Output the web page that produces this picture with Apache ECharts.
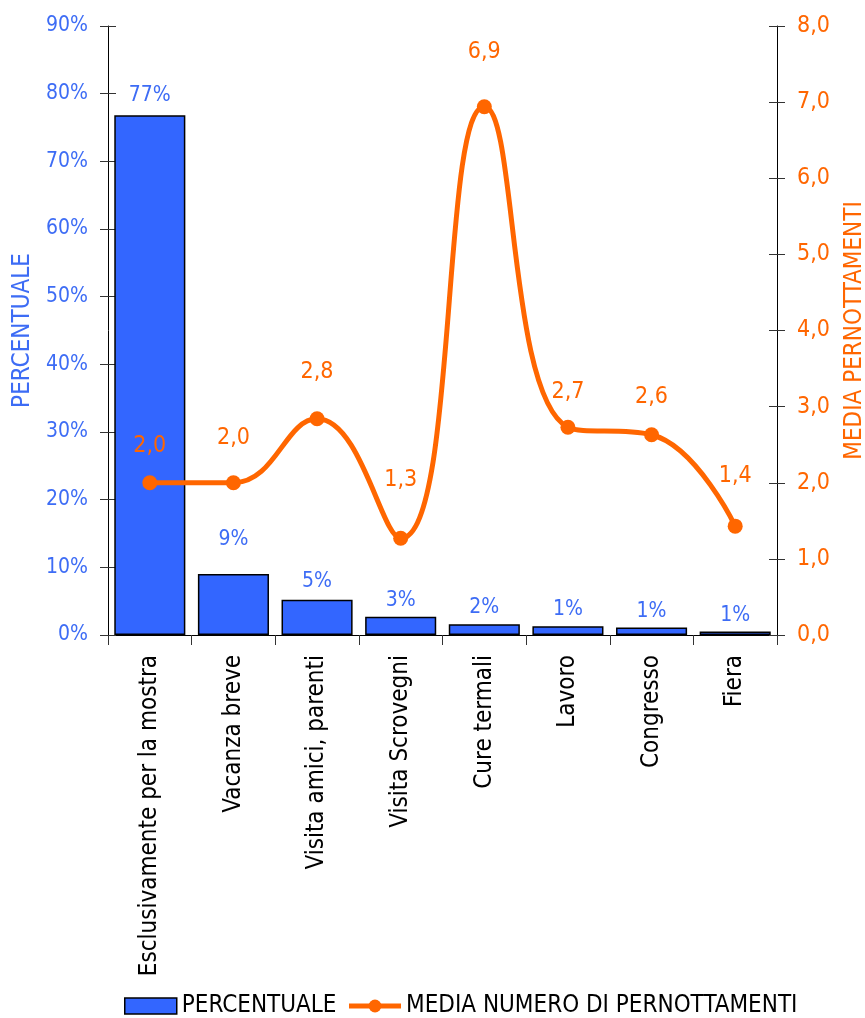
<!DOCTYPE html>
<html>
<head>
<meta charset="utf-8">
<script src="https://cdn.jsdelivr.net/npm/echarts@6/dist/echarts.min.js"></script>
<style>
html,body{margin:0;padding:0;background:#fff;overflow:hidden;}
#chart{width:865px;height:1018px;}
</style>
</head>
<body>
<div id="chart"></div>
<script>
const categories = ["Esclusivamente per la mostra","Vacanza breve","Visita amici, parenti","Visita Scrovegni","Cure termali","Lavoro","Congresso","Fiera"];
const percentuale = [76.8, 9.0, 5.2, 2.7, 1.6, 1.3, 1.1, 0.5];
const mediaPernottamenti = [2.0, 2.0, 2.84, 1.27, 6.94, 2.73, 2.63, 1.43];
const leftTicks = [0, 10, 20, 30, 40, 50, 60, 70, 80, 90];
const rightTicks = [0, 1, 2, 3, 4, 5, 6, 7, 8];

// label placement (layout only, not data)
const barLabelGap = [9, 24, 8, 6, 6, 6, 6, 6];
const lineLabelGap = [18, 26, 28, 39, 36, 16, 19, 31];

const FONT = "'DejaVu Sans Condensed', 'Noto Sans', sans-serif";
const BLUE = "#3366FF";
const BLUE_TXT = "#3D6CF5";
const ORANGE = "#FF6600";

const chart = echarts.init(document.getElementById('chart'));
const yLeftBase = {
  type: 'value', min: leftTicks[0], max: leftTicks[leftTicks.length-1], interval: 10, position: 'left'
};
const yRightBase = {
  type: 'value', min: rightTicks[0], max: rightTicks[rightTicks.length-1], interval: 1, position: 'right'
};
chart.setOption({
  animation: false,
  textStyle: { fontFamily: FONT },
  grid: { left: 108, right: 88, top: 26, bottom: 383, containLabel: false, outerBoundsMode: 'none' },
  legend: {
    top: 994, left: 124, padding: 0, itemWidth: 52, itemHeight: 16, itemGap: 10,
    textStyle: { fontSize: 24, color: '#000', fontFamily: FONT },
    data: [
      { name: 'PERCENTUALE', icon: 'rect', itemStyle: { borderColor: '#000', borderWidth: 1.5 } },
      { name: 'MEDIA NUMERO DI PERNOTTAMENTI', lineStyle: { width: 5, color: ORANGE } }
    ]
  },
  xAxis: {
    type: 'category', data: categories, boundaryGap: true,
    axisLine: { lineStyle: { color: '#000', width: 1 } },
    axisTick: { show: true, length: 10, lineStyle: { color: '#333' } },
    axisLabel: { rotate: 90, fontSize: 24, color: '#000', margin: 20, interval: 0, fontFamily: FONT }
  },
  yAxis: [
    Object.assign({}, yLeftBase, {
      name: 'PERCENTUALE', nameLocation: 'middle', nameGap: 72, nameRotate: 90,
      nameTextStyle: { color: BLUE_TXT, fontSize: 24, fontFamily: FONT },
      axisLine: { show: true, lineStyle: { color: '#000' } },
      axisTick: { show: true, length: 8, lineStyle: { color: '#333' } },
      splitLine: { show: false },
      axisLabel: { formatter: v => v + '%', color: BLUE_TXT, fontSize: 21, margin: 20, fontFamily: FONT }
    }),
    Object.assign({}, yRightBase, {
      name: 'MEDIA PERNOTTAMENTI', nameLocation: 'middle', nameGap: 66, nameRotate: 90,
      nameTextStyle: { color: ORANGE, fontSize: 24, fontFamily: FONT },
      axisLine: { show: true, lineStyle: { color: '#000' } },
      axisTick: { show: true, length: 8, lineStyle: { color: '#333' } },
      splitLine: { show: false },
      axisLabel: { formatter: v => v.toFixed(1).replace('.', ','), color: ORANGE, fontSize: 23, margin: 20, fontFamily: FONT }
    }),
    Object.assign({}, yLeftBase, {
      axisLine: { show: false }, axisLabel: { show: false }, splitLine: { show: false },
      axisTick: { show: true, inside: true, length: 8, lineStyle: { color: '#333' } }
    }),
    Object.assign({}, yRightBase, {
      axisLine: { show: false }, axisLabel: { show: false }, splitLine: { show: false },
      axisTick: { show: true, inside: true, length: 8, lineStyle: { color: '#333' } }
    })
  ],
  series: [
    {
      name: 'PERCENTUALE', type: 'bar', yAxisIndex: 0,
      data: percentuale.map((v, i) => ({ value: v, label: { distance: barLabelGap[i] } })),
      barCategoryGap: '15%',
      itemStyle: { color: BLUE, borderColor: '#000', borderWidth: 1.5 },
      label: {
        show: true, position: 'top', color: BLUE_TXT, fontSize: 21, fontFamily: FONT,
        formatter: p => Math.round(p.value) + '%'
      }
    },
    {
      name: 'MEDIA NUMERO DI PERNOTTAMENTI', type: 'line', yAxisIndex: 1,
      data: mediaPernottamenti.map((v, i) => ({ value: v, label: { distance: lineLabelGap[i] } })),
      smooth: 0.45, symbol: 'circle', symbolSize: 15,
      lineStyle: { color: ORANGE, width: 5 },
      itemStyle: { color: ORANGE },
      label: {
        show: true, position: 'top', color: ORANGE, fontSize: 23, fontFamily: FONT,
        formatter: p => p.value.toFixed(1).replace('.', ',')
      },
      z: 5
    }
  ]
});
</script>
</body>
</html>
